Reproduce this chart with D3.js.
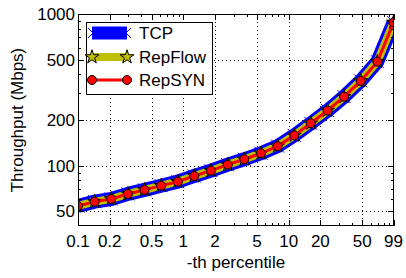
<!DOCTYPE html>
<html>
<head>
<meta charset="utf-8">
<script src="https://cdn.jsdelivr.net/npm/d3@7"></script>
<style>
  html, body { margin: 0; padding: 0; background: #fff; }
  svg { display: block; }
  text { font-family: "Liberation Sans", Arial, sans-serif; fill: #000; }
</style>
</head>
<body>
<svg id="chart" width="406" height="278"></svg>
<script>
// ---- data ----
const percentiles = [0.1, 0.144, 0.207, 0.298, 0.428, 0.616, 0.886, 1.27, 1.83, 2.64,
                     3.79, 5.46, 7.85, 11.3, 16.2, 23.4, 33.6, 48.3, 69.5, 99];
const tcp     = [54.2, 57.9, 60.3, 65.1, 69.2, 73.8, 78.4, 85.5, 92.7, 101.5,
                 110.2, 120.7, 134.5, 158.4, 190.3, 231, 285, 362, 485, 880];
const repflow = [54.2, 57.9, 60.3, 65.1, 69.2, 73.8, 78.4, 85.5, 92.7, 101.5,
                 110.2, 120.7, 134.5, 158.4, 190.3, 231, 285, 362, 485, 880];
const repsyn  = [54.2, 57.9, 60.3, 65.1, 69.2, 73.8, 78.4, 85.5, 92.7, 101.5,
                 110.2, 120.7, 134.5, 158.4, 190.3, 231, 285, 362, 485, 880];
const xTicks = [0.1, 0.2, 0.5, 1, 2, 5, 10, 20, 50, 99];
const xTickLabels = ["0.1", "0.2", "0.5", "1", "2", "5", "10", "20", "50", "99"];
const yTicks = [50, 100, 200, 500, 1000];
const yTickLabels = ["50", "100", "200", "500", "1000"];
const seriesNames = ["TCP", "RepFlow", "RepSYN"];

// ---- layout ----
const svg = d3.select("#chart");
const L = 78, R = 394, T = 14, B = 226;
const x = d3.scaleLog().domain([0.1, 100]).range([L, R]);
const y = d3.scaleLog().domain([40, 1000]).range([B, T]);

const fs = 17;

// grid
const grid = svg.append("g");
xTicks.forEach(v => {
  const px = Math.round(x(v)) + 0.5;
  if (px > L + 1 && px < R - 1)
    grid.append("line").attr("x1", px).attr("x2", px).attr("y1", T).attr("y2", B)
      .attr("stroke", "#000").attr("stroke-width", 1).attr("stroke-dasharray", "1,3");
});
yTicks.forEach(v => {
  const py = Math.round(y(v)) + 0.5;
  if (py > T + 1 && py < B - 1)
    grid.append("line").attr("x1", L).attr("x2", R).attr("y1", py).attr("y2", py)
      .attr("stroke", "#000").attr("stroke-width", 1).attr("stroke-dasharray", "1,3");
});

// clip
svg.append("clipPath").attr("id", "clip").append("rect")
  .attr("x", L).attr("y", T).attr("width", R - L).attr("height", B - T);
const plot = svg.append("g").attr("clip-path", "url(#clip)");

const pts = vals => percentiles.map((p, i) => [x(p), y(vals[i])]);
const line = d3.line();

const starPath = d3.symbol().type(d3.symbolStar).size(60)();
const xPath = "M-6.5,-6.5L6.5,6.5M-6.5,6.5L6.5,-6.5";
const xPathSmall = "M-5,-5L5,5M-5,5L5,-5";

// TCP
plot.append("path").attr("d", line(pts(tcp))).attr("fill", "none")
  .attr("stroke", "#0000ff").attr("stroke-width", 14).attr("stroke-linejoin", "round");
plot.selectAll(".xm").data(pts(tcp)).enter().append("path")
  .attr("d", xPath).attr("transform", d => `translate(${d[0]},${d[1]})`)
  .attr("stroke", "#0000ff").attr("stroke-width", 1).attr("fill", "none");
// RepFlow
plot.append("path").attr("d", line(pts(repflow))).attr("fill", "none")
  .attr("stroke", "#bfbf00").attr("stroke-width", 8).attr("stroke-linejoin", "round");
plot.selectAll(".st").data(pts(repflow)).enter().append("path")
  .attr("d", starPath).attr("transform", d => `translate(${d[0]},${d[1]})`)
  .attr("fill", "#bfbf00").attr("stroke", "#000").attr("stroke-width", 1);
// RepSYN
plot.append("path").attr("d", line(pts(repsyn))).attr("fill", "none")
  .attr("stroke", "#ff0000").attr("stroke-width", 3).attr("stroke-linejoin", "round");
plot.selectAll(".ci").data(pts(repsyn)).enter().append("circle")
  .attr("cx", d => d[0]).attr("cy", d => d[1]).attr("r", 4.5)
  .attr("fill", "#ff0000").attr("stroke", "#000").attr("stroke-width", 1);

// axes frame
svg.append("rect").attr("x", L + 0.5).attr("y", T + 0.5).attr("width", R - L - 1).attr("height", B - T - 1)
  .attr("fill", "none").attr("stroke", "#000").attr("stroke-width", 1);

// ticks
const tk = svg.append("g").attr("stroke", "#000").attr("stroke-width", 1);
const xMinor = x.ticks().filter(v => v > 0.1 && v < 100 && ![0.2, 0.5, 1, 2, 5, 10, 20, 50].includes(+v.toPrecision(3)));
const yMinor = y.ticks().filter(v => !yTicks.includes(v) && v > 40 && v < 1000);
function xTick(v, len) {
  const px = Math.round(x(v)) + 0.5;
  tk.append("line").attr("x1", px).attr("x2", px).attr("y1", B).attr("y2", B - len);
  tk.append("line").attr("x1", px).attr("x2", px).attr("y1", T).attr("y2", T + len);
}
function yTick(v, len) {
  const py = Math.round(y(v)) + 0.5;
  tk.append("line").attr("x1", L).attr("x2", L + len).attr("y1", py).attr("y2", py);
  tk.append("line").attr("x1", R).attr("x2", R - len).attr("y1", py).attr("y2", py);
}
xTicks.forEach(v => xTick(v, 6));
xMinor.forEach(v => xTick(v, 3));
yTicks.forEach(v => yTick(v, 6));
yMinor.forEach(v => yTick(v, 3));

// tick labels
xTicks.forEach((v, i) => {
  svg.append("text").attr("x", x(v)).attr("y", 247).attr("text-anchor", "middle")
    .attr("font-size", fs).text(xTickLabels[i]);
});
yTicks.forEach((v, i) => {
  svg.append("text").attr("x", L - 3).attr("y", y(v) + 6).attr("text-anchor", "end")
    .attr("font-size", fs).text(yTickLabels[i]);
});

// axis titles
svg.append("text").attr("x", (L + R) / 2).attr("y", 268).attr("text-anchor", "middle")
  .attr("font-size", fs).text("-th percentile");
svg.append("text").attr("transform", `translate(23,${(T + B) / 2}) rotate(-90)`)
  .attr("text-anchor", "middle").attr("font-size", fs).text("Throughput (Mbps)");

// legend
const lg = svg.append("g");
lg.append("rect").attr("x", 86.5).attr("y", 22.5).attr("width", 126).attr("height", 72)
  .attr("fill", "#fff").attr("stroke", "#000").attr("stroke-width", 1);
const ly = [33, 57, 80];
const lx1 = 92, lx2 = 127;
// TCP
lg.append("line").attr("x1", lx1).attr("x2", lx2).attr("y1", ly[0]).attr("y2", ly[0])
  .attr("stroke", "#0000ff").attr("stroke-width", 13);
[lx1 + 1, lx2 - 1].forEach(px => lg.append("path").attr("d", xPathSmall)
  .attr("transform", `translate(${px},${ly[0]})`).attr("stroke", "#0000ff").attr("fill", "none"));
// RepFlow
lg.append("line").attr("x1", lx1).attr("x2", lx2).attr("y1", ly[1]).attr("y2", ly[1])
  .attr("stroke", "#bfbf00").attr("stroke-width", 8);
[lx1, lx2].forEach(px => lg.append("path").attr("d", starPath)
  .attr("transform", `translate(${px},${ly[1]})`).attr("fill", "#bfbf00").attr("stroke", "#000"));
// RepSYN
lg.append("line").attr("x1", lx1).attr("x2", lx2).attr("y1", ly[2]).attr("y2", ly[2])
  .attr("stroke", "#ff0000").attr("stroke-width", 3);
[lx1, lx2].forEach(px => lg.append("circle").attr("cx", px).attr("cy", ly[2]).attr("r", 4.5)
  .attr("fill", "#ff0000").attr("stroke", "#000"));
seriesNames.forEach((n, i) => lg.append("text").attr("x", 139).attr("y", ly[i] + 6)
  .attr("font-size", fs).text(n));
</script>
</body>
</html>
